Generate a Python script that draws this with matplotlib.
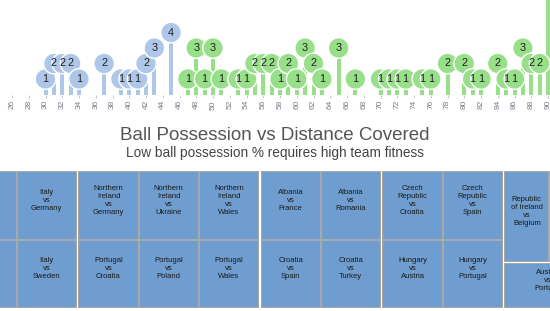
import textwrap
import matplotlib
matplotlib.use("Agg")
import matplotlib.pyplot as plt
from matplotlib.patches import Rectangle

plt.rcParams['font.family'] = ['Liberation Sans', 'DejaVu Sans']

# ---------------- data ----------------
possession = [30, 31, 32, 33, 34, 37, 39, 40, 41, 42, 43, 45,
              47, 48, 49, 50, 51, 53, 54, 55, 56, 57, 58, 59, 60, 61, 62, 63,
              65, 67, 70, 71, 72, 73, 75, 76, 78, 80, 81, 82, 84, 85, 86, 87,
              88, 89, 90]
counts = [1, 2, 2, 2, 1, 2, 1, 1, 1, 2, 3, 4,
          1, 3, 1, 3, 1, 1, 1, 2, 2, 2, 1, 2, 1, 3, 2, 1,
          3, 1, 1, 1, 1, 1, 1, 1, 2, 2, 1, 1, 2, 1, 1, 3,
          2, 2, 7]
x_ticks = list(range(26, 91, 2))
split_value = 46

title = "Ball Possession vs Distance Covered"
subtitle = "Low ball possession % requires high team fitness"

treemap_groups = [
    [["", ""], ["Italy vs Germany", "Italy vs Sweden"]],
    [["Northern Ireland vs Germany", "Portugal vs Croatia"],
     ["Northern Ireland vs Ukraine", "Portugal vs Poland"],
     ["Northern Ireland vs Wales", "Portugal vs Wales"]],
    [["Albania vs France", "Croatia vs Spain"],
     ["Albania vs Romania", "Croatia vs Turkey"]],
    [["Czech Republic vs Croatia", "Hungary vs Austria"],
     ["Czech Republic vs Spain", "Hungary vs Portugal"]],
]
right_top = ["Republic of Ireland vs Belgium", ""]
right_bottom = ["Austria vs Portugal"]

# ---------------- styles ----------------
W, H = 550, 311
BLUE = '#aec7e8'
GREEN = '#98df8a'
CELL = '#6f9dcf'
GRID = '#a8a8a8'

fig = plt.figure(figsize=(W / 100, H / 100), dpi=100)

# ---------------- lollipop chart ----------------
px_per_unit = 8.375
x_left_px = 12
base_px = 94.5
px_per_count = 15.5
ax = fig.add_axes([0, 1 - base_px / H, 1, base_px / H])
ax.set_xlim(26 - x_left_px / px_per_unit, 26 + (W - x_left_px) / px_per_unit)
ax.set_ylim(0, base_px / px_per_count)

colors = [BLUE if p < split_value else GREEN for p in possession]
ax.vlines(possession, 0, counts, colors=colors, linewidth=2.9, zorder=1)
ax.scatter(possession, counts, s=220, c=colors, edgecolors='white',
           linewidths=1.0, zorder=2, clip_on=False)
for p, c in zip(possession, counts):
    ax.text(p, c, str(c), ha='center', va='center', fontsize=7.8,
            color='#222222', zorder=3, clip_on=True)

ax.set_xticks(x_ticks)
ax.set_xticklabels([str(t) for t in x_ticks])
ax.tick_params(axis='x', length=2, width=0.8, color='#cccccc', labelsize=6,
               labelcolor='#7a7a8a', labelrotation=90, pad=2)
ax.set_yticks([])
for s in ax.spines.values():
    s.set_visible(False)
ax.patch.set_alpha(0)

# ---------------- titles ----------------
fig.text(0.5, 1 - 135.5 / H, title, ha='center', va='center',
         fontsize=13.5, color='#555555')
fig.text(0.5, 1 - 153 / H, subtitle, ha='center', va='center',
         fontsize=9.8, color='#444444')

# ---------------- treemap ----------------
tm = fig.add_axes([0, 0, 1, 1], zorder=-1)
tm.set_xlim(0, W)
tm.set_ylim(H, 0)
tm.axis('off')

TM_TOP, TM_BOT = 171, 308
COL_W, GAP, X0 = 60.2, 1.5, -43.5


def wrap_label(label):
    if not label:
        return ""
    a, b = label.split(" vs ")
    return "\n".join(textwrap.wrap(a, 10) + ["vs"] + textwrap.wrap(b, 10))


def draw_cell(x, y, w, h, label):
    tm.add_patch(Rectangle((x + 1, y + 1), w - 2, h - 2, facecolor=CELL,
                           edgecolor='none'))
    tm.text(x + w / 2, y + h / 2 - 5, wrap_label(label), ha='center',
            va='center', fontsize=5.5, color='#1a1a1a', linespacing=1.2,
            clip_on=True)


def draw_group(x, y, w, h):
    tm.add_patch(Rectangle((x, y), w, h, facecolor=GRID, edgecolor='none'))


x = X0
for group in treemap_groups:
    gw = COL_W * len(group)
    draw_group(x, TM_TOP, gw, TM_BOT - TM_TOP)
    row_h = (TM_BOT - TM_TOP) / 2
    for i, col in enumerate(group):
        for j, lab in enumerate(col):
            draw_cell(x + i * COL_W, TM_TOP + j * row_h, COL_W, row_h, lab)
    x += gw + GAP

# right part: two stacked groups
split_y = 261.5
top_w = 45
draw_group(x, TM_TOP, top_w * len(right_top), split_y - TM_TOP)
for i, lab in enumerate(right_top):
    draw_cell(x + i * top_w, TM_TOP, top_w, split_y - TM_TOP, lab)
bot_w = 88
draw_group(x, split_y + GAP, bot_w * len(right_bottom), TM_BOT - split_y - GAP)
for i, lab in enumerate(right_bottom):
    draw_cell(x + i * bot_w, split_y + GAP, bot_w, TM_BOT - split_y - GAP, lab)

fig.savefig("out.png", dpi=100)
